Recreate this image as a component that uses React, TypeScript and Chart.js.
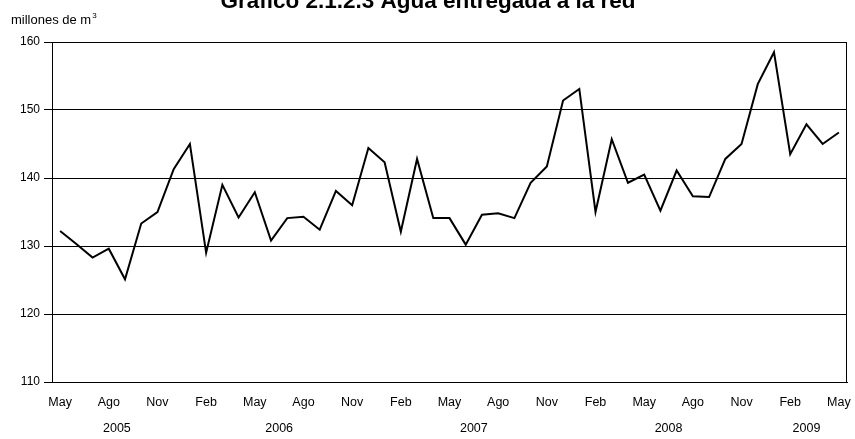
import React, { useEffect, useRef } from "react";
import { Chart, registerables } from "chart.js";

Chart.register(...registerables);

const TITLE = "Gráfico 2.1.2.3 Agua entregada a la red";
const UNIT_LABEL = "millones de m";
const UNIT_SUP = "3";

const months = [
  "May", "Jun", "Jul", "Ago", "Sep", "Oct", "Nov", "Dic",
  "Ene", "Feb", "Mar", "Abr", "May", "Jun", "Jul", "Ago", "Sep", "Oct", "Nov", "Dic",
  "Ene", "Feb", "Mar", "Abr", "May", "Jun", "Jul", "Ago", "Sep", "Oct", "Nov", "Dic",
  "Ene", "Feb", "Mar", "Abr", "May", "Jun", "Jul", "Ago", "Sep", "Oct", "Nov", "Dic",
  "Ene", "Feb", "Mar", "Abr", "May",
];

const values = [
  132.2, 130.3, 128.3, 129.6, 125.1, 133.3, 135.0, 141.3,
  145.0, 129.0, 139.0, 134.2, 137.9, 130.8, 134.1, 134.3, 132.4, 138.1, 136.0, 144.4,
  142.3, 132.1, 142.8, 134.1, 134.1, 130.2, 134.6, 134.8, 134.1, 139.3, 141.7, 151.4,
  153.1, 135.0, 145.7, 139.3, 140.5, 135.2, 141.1, 137.3, 137.2, 142.8, 145.0, 153.8,
  158.5, 143.5, 147.9, 145.0, 146.7,
];

const yMin = 110;
const yMax = 160;
const yStep = 10;

const years = ["2005", "2006", "2007", "2008", "2009"];
const yearFirst = [0, 8, 20, 32, 44];
const yearLast = [7, 19, 31, 43, 48];

const FONT = "'Liberation Sans', Arial, sans-serif";

export default function App() {
  const ref = useRef<HTMLCanvasElement>(null);

  useEffect(() => {
    if (!ref.current) return;

    const decor = {
      id: "decor",
      beforeDatasetsDraw(chart: any) {
        const { ctx, chartArea: a } = chart;
        ctx.save();
        ctx.strokeStyle = "#000";
        ctx.lineWidth = 1;
        ctx.strokeRect(
          Math.round(a.left) + 0.5,
          Math.round(a.top) + 0.5,
          Math.round(a.right - a.left) - 1,
          Math.round(a.bottom - a.top)
        );
        ctx.restore();
      },
      afterDraw(chart: any) {
        const { ctx } = chart;
        const xs = chart.scales.x;
        ctx.save();
        ctx.fillStyle = "#000";
        // title (partially cut at top)
        ctx.font = `bold 22.5px ${FONT}`;
        ctx.textAlign = "center";
        ctx.textBaseline = "alphabetic";
        ctx.fillText(TITLE, 428, 8);
        // unit label
        ctx.font = `13px ${FONT}`;
        ctx.textAlign = "left";
        ctx.fillText(UNIT_LABEL, 11, 24);
        const w = ctx.measureText(UNIT_LABEL).width;
        ctx.font = `8px ${FONT}`;
        ctx.fillText(UNIT_SUP, 11 + w + 1, 18);
        // year labels
        ctx.font = `12.5px ${FONT}`;
        ctx.textAlign = "center";
        ctx.textBaseline = "middle";
        years.forEach((y, i) => {
          const x0 = xs.getPixelForValue(yearFirst[i]);
          const x1 = xs.getPixelForValue(yearLast[i]);
          ctx.fillText(y, (x0 + x1) / 2, 429);
        });
        ctx.restore();
      },
    };

    const chart = new Chart(ref.current, {
      type: "line",
      data: {
        labels: months,
        datasets: [
          {
            data: values,
            borderColor: "#000",
            borderWidth: 2,
            pointRadius: 0,
            tension: 0,
            fill: false,
          },
        ],
      },
      options: {
        animation: false,
        responsive: false,
        maintainAspectRatio: false,
        layout: { padding: { top: 42, right: 8, bottom: 0, left: 0 } },
        plugins: {
          legend: { display: false },
          title: { display: false },
          tooltip: { enabled: false },
        },
        scales: {
          x: {
            type: "category",
            offset: true,
            grid: { display: false, drawTicks: false },
            border: { display: true, color: "#000", width: 1 },
            ticks: {
              autoSkip: false,
              maxRotation: 0,
              minRotation: 0,
              color: "#000",
              font: { family: FONT, size: 12.5 },
              padding: 13,
              callback: (_v: any, i: number) => (i % 3 === 0 ? months[i] : ""),
            },
            afterFit: (s: any) => {
              s.height = 57;
              s.paddingLeft = 0;
              s.paddingRight = 0;
            },
          },
          y: {
            min: yMin,
            max: yMax,
            grid: { color: "#000", lineWidth: 1, tickLength: 8, drawTicks: true },
            border: { display: true, color: "#000", width: 1 },
            ticks: {
              stepSize: yStep,
              color: "#000",
              font: { family: FONT, size: 12 },
              padding: 4,
            },
            afterFit: (s: any) => {
              s.width = 52;
              s.paddingTop = 0;
              s.paddingBottom = 0;
            },
          },
        },
      },
      plugins: [decor],
    });

    return () => chart.destroy();
  }, []);

  return (
    <div style={{ position: "absolute", left: 0, top: 0, width: 855, height: 439 }}>
      <canvas ref={ref} width={855} height={439} style={{ display: "block" }} />
    </div>
  );
}
